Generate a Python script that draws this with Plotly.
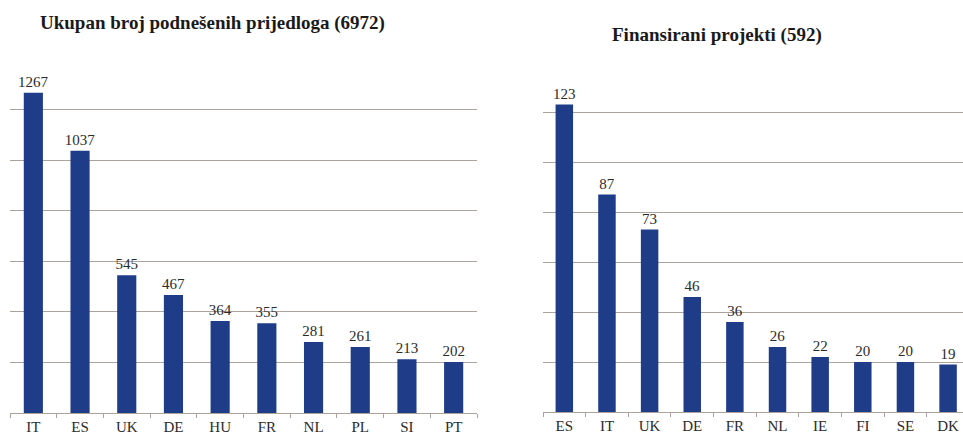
import plotly.graph_objects as go

left_title = "Ukupan broj podnešenih prijedloga (6972)"
left_categories = ["IT", "ES", "UK", "DE", "HU", "FR", "NL", "PL", "SI", "PT"]
left_values = [1267, 1037, 545, 467, 364, 355, 281, 261, 213, 202]

right_title = "Finansirani projekti (592)"
right_categories = ["ES", "IT", "UK", "DE", "FR", "NL", "IE", "FI", "SE", "DK"]
right_values = [123, 87, 73, 46, 36, 26, 22, 20, 20, 19]

W, H = 963, 436
BAR = "#1f3c88"
GRID = "#aba39c"
TXT = "#2b2b2b"
FONT = "Liberation Serif"

fig = go.Figure()
fig.add_trace(go.Bar(
    x=left_categories, y=left_values, marker_color=BAR, marker_line_width=0,
    text=[str(v) for v in left_values], textposition="outside", cliponaxis=False,
    constraintext="none",
    textfont=dict(family=FONT, size=15, color=TXT),
    xaxis="x", yaxis="y", width=0.41, showlegend=False))
fig.add_trace(go.Bar(
    x=right_categories, y=right_values, marker_color=BAR, marker_line_width=0,
    text=[str(v) for v in right_values], textposition="outside", cliponaxis=False,
    constraintext="none",
    textfont=dict(family=FONT, size=15, color=TXT),
    xaxis="x2", yaxis="y2", width=0.41, showlegend=False))

def xa(domain, rng, anchor):
    return dict(domain=domain, type="category", range=rng, anchor=anchor,
                showline=True, linecolor=GRID, linewidth=1,
                ticks="outside", tickson="boundaries", ticklen=4, tickcolor=GRID,
                tickfont=dict(family=FONT, size=15, color=TXT), showgrid=False)

def ya(domain, rng, dtick, anchor):
    return dict(domain=domain, range=rng, dtick=dtick, showticklabels=False,
                showgrid=True, gridcolor=GRID, gridwidth=1.3, zeroline=False,
                showline=False, ticks="", anchor=anchor)

fig.update_layout(
    width=W, height=H, margin=dict(l=0, r=0, t=0, b=0),
    paper_bgcolor="white", plot_bgcolor="white", bargap=0.59,
    xaxis=xa([10 / W, 477 / W], [-0.5, 9.5], "y"),
    yaxis=ya([1 - 413 / H, 1 - 59 / H], [0, 1400], 200, "x"),
    xaxis2=xa([543 / W, 1.0], [-0.5, 9.35], "y2"),
    yaxis2=ya([1 - 412 / H, 1 - 62 / H], [0, 140], 20, "x2"),
    annotations=[
        dict(text="<b>" + left_title + "</b>", x=212 / W, y=1 - 23 / H, xref="paper", yref="paper",
             xanchor="center", yanchor="middle",
             showarrow=False, font=dict(family=FONT, size=19, color="#1a1a1a")),
        dict(text="<b>" + right_title + "</b>", x=717 / W, y=1 - 35 / H, xref="paper", yref="paper",
             xanchor="center", yanchor="middle",
             showarrow=False, font=dict(family=FONT, size=19, color="#1a1a1a")),
    ],
)
fig.write_html("out.html", config={"displayModeBar": False},
               post_script="document.body.style.margin='0';document.body.style.overflow='hidden';")
